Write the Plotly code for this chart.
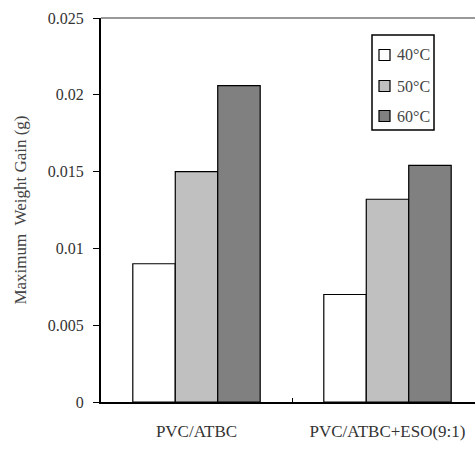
import plotly.graph_objects as go

categories = ["PVC/ATBC", "PVC/ATBC+ESO(9:1)"]
series_names = ["40°C", "50°C", "60°C"]
v40 = [0.0090, 0.0070]
v50 = [0.0150, 0.0132]
v60 = [0.0206, 0.0154]
colors = ["#ffffff", "#c0c0c0", "#808080"]
yticks = [0, 0.005, 0.01, 0.015, 0.02, 0.025]
ytick_labels = ["0", "0.005", "0.01", "0.015", "0.02", "0.025"]

FONT = "Liberation Serif"
W, H = 475, 449
ML, MT, MB = 101, 18, 47
PW, PH = W - ML, H - MT - MB

def px(x):
    return (x - ML) / PW

def py(y):
    return (H - MB - y) / PH

fig = go.Figure()
for i, (name, vals) in enumerate(zip(series_names, [v40, v50, v60])):
    fig.add_trace(go.Bar(
        x=categories, y=vals, name=name,
        marker=dict(color=colors[i], line=dict(color="black", width=1.2)),
        showlegend=False,
    ))

fig.update_layout(
    width=W, height=H,
    margin=dict(l=ML, r=0, t=MT, b=MB),
    paper_bgcolor="white", plot_bgcolor="white",
    barmode="group", bargap=0.333, bargroupgap=0,
    font=dict(family=FONT, color="#333", size=14),
)
fig.update_xaxes(
    range=[-0.5, -0.5 + PW / 191],
    showline=True, linecolor="black", linewidth=2,
    ticks="inside", tickson="boundaries", ticklen=4, tickcolor="black",
    tickfont=dict(family=FONT, size=17, color="#333"),
    ticklabelstandoff=13,
    showgrid=False, zeroline=False,
)
fig.update_yaxes(
    range=[0, 0.025],
    tickvals=yticks, ticktext=ytick_labels,
    showline=True, linecolor="black", linewidth=2,
    ticks="outside", ticklen=6, tickcolor="black",
    tickfont=dict(family=FONT, size=16, color="#333"),
    ticklabelstandoff=6,
    title=dict(text="Maximum  Weight Gain (g)", font=dict(family=FONT, size=17, color="#444"), standoff=17),
    showgrid=False, zeroline=False,
)
# top frame line (gray)
fig.add_shape(type="line", xref="paper", yref="paper", x0=0, x1=1, y0=1, y1=1,
              line=dict(color="#999999", width=2))

# manual legend
fig.add_shape(type="rect", xref="paper", yref="paper",
              x0=px(372), x1=px(434), y0=py(35), y1=py(130),
              line=dict(color="black", width=1.5), fillcolor="white")
centers = [55, 86, 116]
for name, col, cy in zip(series_names, colors, centers):
    fig.add_shape(type="rect", xref="paper", yref="paper",
                  x0=px(379), x1=px(390), y0=py(cy - 5.5), y1=py(cy + 5.5),
                  line=dict(color="black", width=1.2), fillcolor=col)
    fig.add_annotation(xref="paper", yref="paper", x=px(395), y=py(cy),
                       xanchor="left", yanchor="middle", showarrow=False,
                       text=name, font=dict(family=FONT, size=16, color="#444"))

fig.write_html("out.html")
